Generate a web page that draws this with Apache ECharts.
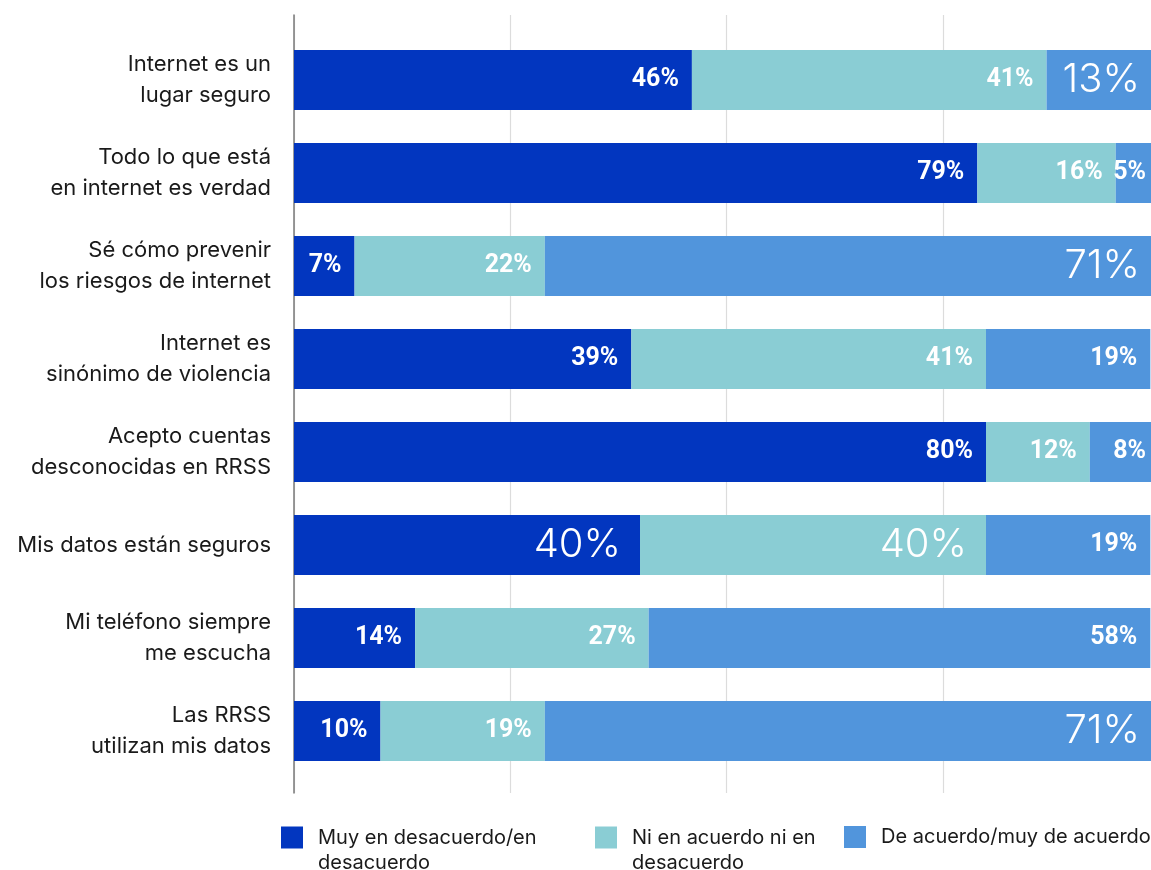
<!DOCTYPE html>
<html>
<head>
<meta charset="utf-8">
<title>Percepciones sobre internet</title>
<script src="https://cdn.jsdelivr.net/npm/echarts@6/dist/echarts.min.js"></script>
<style>
  html, body { margin: 0; padding: 0; background: #ffffff; overflow: hidden; }
  #chart { width: 1151px; height: 870px; }
</style>
</head>
<body>
<div id="chart"></div>
<script>
// Statements (top to bottom)
const categories = [
  'Internet es un\nlugar seguro',
  'Todo lo que está\nen internet es verdad',
  'Sé cómo prevenir\nlos riesgos de internet',
  'Internet es\nsinónimo de violencia',
  'Acepto cuentas\ndesconocidas en RRSS',
  'Mis datos están seguros',
  'Mi teléfono siempre\nme escucha',
  'Las RRSS\nutilizan mis datos'
];

// Answer groups
const seriesNames = [
  'Muy en desacuerdo/en\ndesacuerdo',
  'Ni en acuerdo ni en\ndesacuerdo',
  'De acuerdo/muy de acuerdo'
];

// Percentages per statement
const desacuerdo = [46, 79, 7, 39, 80, 40, 14, 10];
const neutral    = [41, 16, 22, 41, 12, 40, 27, 19];
const acuerdo    = [13, 5, 71, 19, 8, 19, 58, 71];

// Percentage axis ticks
const xTicks = [0, 25, 50, 75, 100];

const colors = ['#0236BF', '#8ACDD4', '#5195DC'];

// Cells whose value is printed in the large display style: [series, row]
const largeCells = [[2, 0], [2, 2], [0, 5], [1, 5], [2, 7]];

const smallLabel = {
  show: true,
  position: 'insideRight',
  distance: 13,
  color: '#ffffff',
  fontFamily: 'Roboto',
  fontWeight: 'bold',
  fontSize: 25,
  formatter: p => p.value + '%'
};
const largeLabel = {
  show: true,
  position: 'insideRight',
  distance: 19,
  color: '#ffffff',
  fontFamily: 'Inter',
  fontWeight: 300,
  fontSize: 40,
  formatter: p => p.value + '%'
};

function buildData(values, sIdx) {
  return values.map((v, r) => {
    const big = largeCells.some(c => c[0] === sIdx && c[1] === r);
    return big ? { value: v, label: largeLabel } : { value: v };
  });
}

const allValues = [desacuerdo, neutral, acuerdo];

const series = allValues.map((vals, i) => ({
  name: seriesNames[i],
  type: 'bar',
  stack: 'total',
  xAxisIndex: 0,
  yAxisIndex: 0,
  barWidth: 60,
  itemStyle: { color: colors[i] },
  label: smallLabel,
  emphasis: { disabled: true },
  data: buildData(vals, i)
}));

// One legend block per answer group; a wrapped name gets a leading blank
// line so the marker stays level with its first line.
const legendXs = [281, 595, 844];
const legends = seriesNames.map((n, i) => {
  const wrapped = n.indexOf('\n') >= 0;
  return {
    data: [n],
    left: legendXs[i],
    top: wrapped ? 800 : 824.5,
    padding: 0,
    orient: 'horizontal',
    icon: 'rect',
    itemWidth: 22,
    itemHeight: 22,
    itemGap: 0,
    selectedMode: false,
    formatter: name => (name.indexOf('\n') >= 0 ? '\n' + name : name),
    textStyle: {
      color: '#1a1a1a',
      fontFamily: 'Inter',
      fontSize: 20,
      lineHeight: 25,
      padding: [0, 0, 0, 10]
    }
  };
});

const chart = echarts.init(document.getElementById('chart'), null, { renderer: 'canvas' });

chart.setOption({
  backgroundColor: '#ffffff',
  animation: false,
  color: colors,
  legend: legends,
  grid: [
    // bars
    { left: 294, width: 865, top: 33.5, bottom: 92.5, outerBoundsMode: 'none' },
    // reference lines behind the bars
    { left: 294, width: 865, top: 15, bottom: 77, outerBoundsMode: 'none' }
  ],
  xAxis: [
    {
      gridIndex: 0, type: 'value', min: xTicks[0], max: xTicks[xTicks.length - 1], interval: 25,
      show: false
    },
    {
      gridIndex: 1, type: 'value', min: xTicks[0], max: xTicks[xTicks.length - 1], interval: 25,
      axisLine: { show: false }, axisTick: { show: false }, axisLabel: { show: false },
      splitLine: { show: true, lineStyle: { color: '#dcdcdc', width: 1.2 } }
    }
  ],
  yAxis: [
    {
      gridIndex: 0, type: 'category', inverse: true, data: categories,
      axisLine: { show: false }, axisTick: { show: false },
      axisLabel: {
        margin: 23,
        color: '#1a1a1a',
        fontFamily: 'Inter',
        fontSize: 22,
        lineHeight: 31,
        align: 'right'
      }
    },
    {
      gridIndex: 1, type: 'value', min: 0, max: 1,
      axisLine: { show: true, onZero: false, lineStyle: { color: '#7a7a7a', width: 1.5 } },
      axisTick: { show: false }, axisLabel: { show: false }, splitLine: { show: false }
    }
  ],
  series: series
});
</script>
</body>
</html>
